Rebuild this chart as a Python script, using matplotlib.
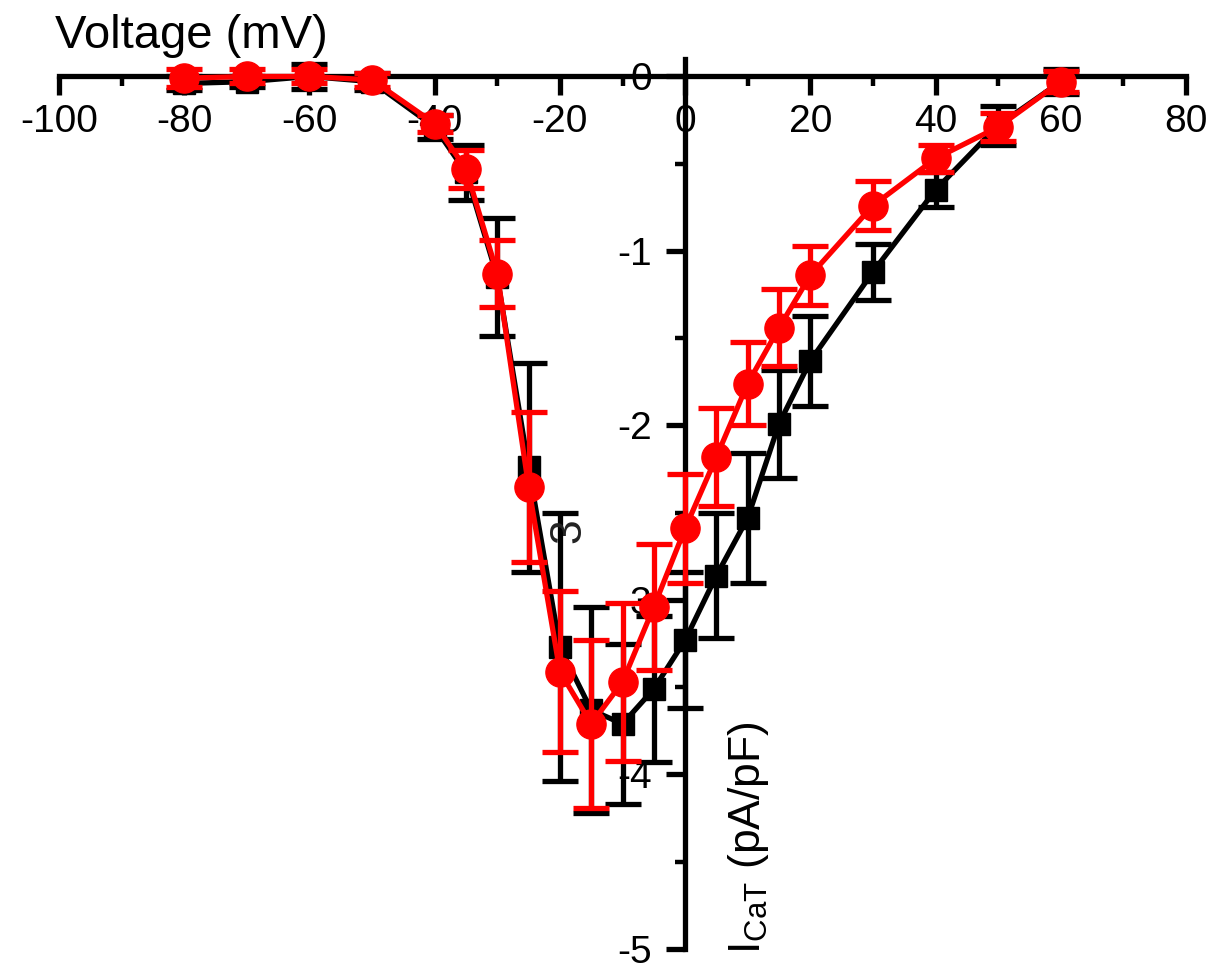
import numpy as np
import matplotlib
matplotlib.use("Agg")
import matplotlib.pyplot as plt
from matplotlib.ticker import MultipleLocator

plt.rcParams['font.family'] = ['Liberation Sans', 'DejaVu Sans']
plt.rcParams['mathtext.fontset'] = 'custom'
plt.rcParams['mathtext.rm'] = 'Liberation Sans'
plt.rcParams['axes.unicode_minus'] = False

# voltage steps (mV)
voltage = [-80, -70, -60, -50, -40, -35, -30, -25, -20, -15, -10, -5,
           0, 5, 10, 15, 20, 30, 40, 50, 60]

# black squares
ctrl_mean = [-0.04, -0.03, 0.0, -0.03, -0.29, -0.55, -1.15, -2.24, -3.27, -3.63,
             -3.71, -3.51, -3.23, -2.86, -2.53, -1.99, -1.63, -1.12, -0.65, -0.28, -0.03]
ctrl_sem = [0.04, 0.03, 0.07, 0.05, 0.07, 0.16, 0.34, 0.60, 0.77, 0.59,
            0.46, 0.42, 0.39, 0.36, 0.37, 0.31, 0.26, 0.16, 0.10, 0.11, 0.07]

# red circles
treat_mean = [-0.01, 0.0, 0.0, -0.02, -0.27, -0.53, -1.13, -2.35, -3.41, -3.71,
              -3.47, -3.04, -2.59, -2.18, -1.76, -1.44, -1.14, -0.74, -0.47, -0.29, -0.03]
treat_sem = [0.05, 0.04, 0.04, 0.04, 0.05, 0.11, 0.19, 0.43, 0.46, 0.48,
             0.45, 0.36, 0.31, 0.28, 0.24, 0.22, 0.17, 0.14, 0.08, 0.08, 0.06]

fig = plt.figure(figsize=(12.15, 9.68), dpi=100)
ax = fig.add_axes([59 / 1215, 19 / 968, 1127 / 1215, 890 / 968])

ax.errorbar(voltage, ctrl_mean, yerr=ctrl_sem, color='black', marker='s',
            markersize=16, linewidth=3.8, elinewidth=3.8, capsize=13, capthick=3.8,
            zorder=3)
ax.errorbar(voltage, treat_mean, yerr=treat_sem, color='red', marker='o',
            markersize=21, linewidth=3.8, elinewidth=3.8, capsize=13, capthick=3.8,
            zorder=4)

ax.set_xlim(-100, 80)
ax.set_ylim(-5, 0.1)

# axes cross at the origin
ax.spines['left'].set_position(('data', 0))
ax.spines['bottom'].set_position(('data', 0))
ax.spines['top'].set_visible(False)
ax.spines['right'].set_visible(False)
for s in ['left', 'bottom']:
    ax.spines[s].set_linewidth(3.8)
    ax.spines[s].set_zorder(2)

ax.xaxis.set_major_locator(MultipleLocator(20))
ax.xaxis.set_minor_locator(MultipleLocator(10))
ax.yaxis.set_major_locator(MultipleLocator(1))
ax.yaxis.set_minor_locator(MultipleLocator(0.5))

ax.tick_params(axis='both', which='major', direction='out', length=14, width=3.8,
               labelsize=28)
ax.tick_params(axis='both', which='minor', direction='out', length=7, width=3.2)
ax.tick_params(axis='x', pad=6)
ax.tick_params(axis='y', pad=10)

fig.text(55 / 1215, 1 - 36 / 968, 'Voltage (mV)', fontsize=34, ha='left', va='center')
ax.text(6.6, -5.03, r'$\mathrm{I_{CaT}}$ (pA/pF)', rotation=90, fontsize=32,
        ha='left', va='bottom')
ax.text(-18.6, -2.60, '3', rotation=90, fontsize=32, ha='center', va='center',
        color='#222')

fig.savefig('out.png', dpi=100)
